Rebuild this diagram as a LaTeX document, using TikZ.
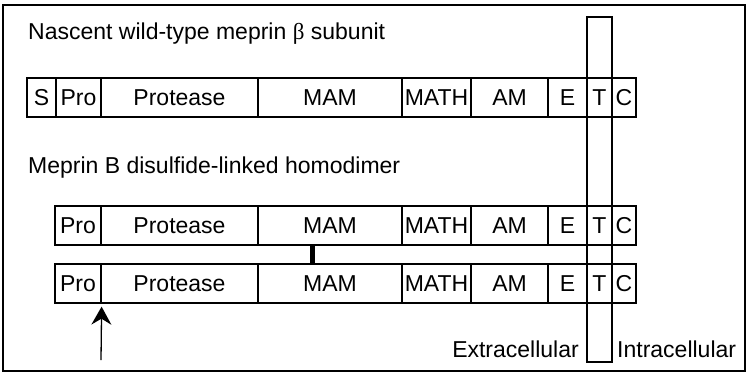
\documentclass[tikz,border=0pt]{standalone}
\usepackage{fontspec}
\setmainfont{Liberation Sans}
\newfontfamily\greekserif{Liberation Serif}
\usetikzlibrary{arrows.meta}
\begin{document}
\begin{tikzpicture}[x=1pt, y=-1pt,
  every node/.style={font=\fontsize{23}{27}\selectfont},
  cell/.style={draw, line width=1.3pt, inner sep=0pt, minimum height=39pt,
               text height=16.5pt, text depth=0pt},
  label/.style={inner sep=0pt},
  frame/.style={line width=1.5pt},
  link/.style={line width=5pt},
  cleave/.style={line width=1.3pt, -{Stealth[length=18pt, width=20pt, inset=6pt]}, shorten >=3pt}]
\useasboundingbox (0,0) rectangle (747,373);
% outer frame
\draw[frame] (3,5) rectangle (745,371);
% headings
\node[label, anchor=base west] (title1) at (28,39) {Nascent wild-type meprin {\greekserif β} subunit};
\node[label, anchor=base west] (title2) at (28,173) {Meprin B disulfide-linked homodimer};
% nascent subunit domains
\foreach \n/\a/\b/\t in {s/27/56/S, pro/56/101/Pro, prot/101/258/Protease, mam/258/402/MAM,
    math/402/471/MATH, am/471/548/AM, e/548/587/E, t/587/612/T, c/612/636/C}
  \node[cell, minimum width={(\b-\a)*1pt}] (r1\n) at ({(\a+\b)/2},97.5) {\t};
% homodimer: two chains
\foreach \r/\y in {2/225.5, 3/283.5}
  \foreach \n/\a/\b/\t in {pro/55/101/Pro, prot/101/258/Protease, mam/258/402/MAM,
      math/402/471/MATH, am/471/548/AM, e/548/587/E, t/587/612/T, c/612/636/C}
    \node[cell, minimum width={(\b-\a)*1pt}] (r\r\n) at ({(\a+\b)/2},\y) {\t};
% membrane-spanning column through the T domains
\node[draw, line width=1.3pt, inner sep=0pt, minimum width=25pt, minimum height=345pt] (tm) at (599.5,189.5) {};
% disulfide link between the MAM domains
\coordinate (bx) at (312,0);
\draw[link] (r2mam.south -| bx) -- (r3mam.north -| bx);
% cleavage site arrow
\coordinate (tail) at (101,360);
\draw[cleave] (tail) -- (r3pro.south east);
% membrane sides
\node[label, anchor=base east] (extra) at (579,357) {Extracellular};
\node[label, anchor=base west] (intra) at (617,357) {Intracellular};
\end{tikzpicture}
\end{document}
